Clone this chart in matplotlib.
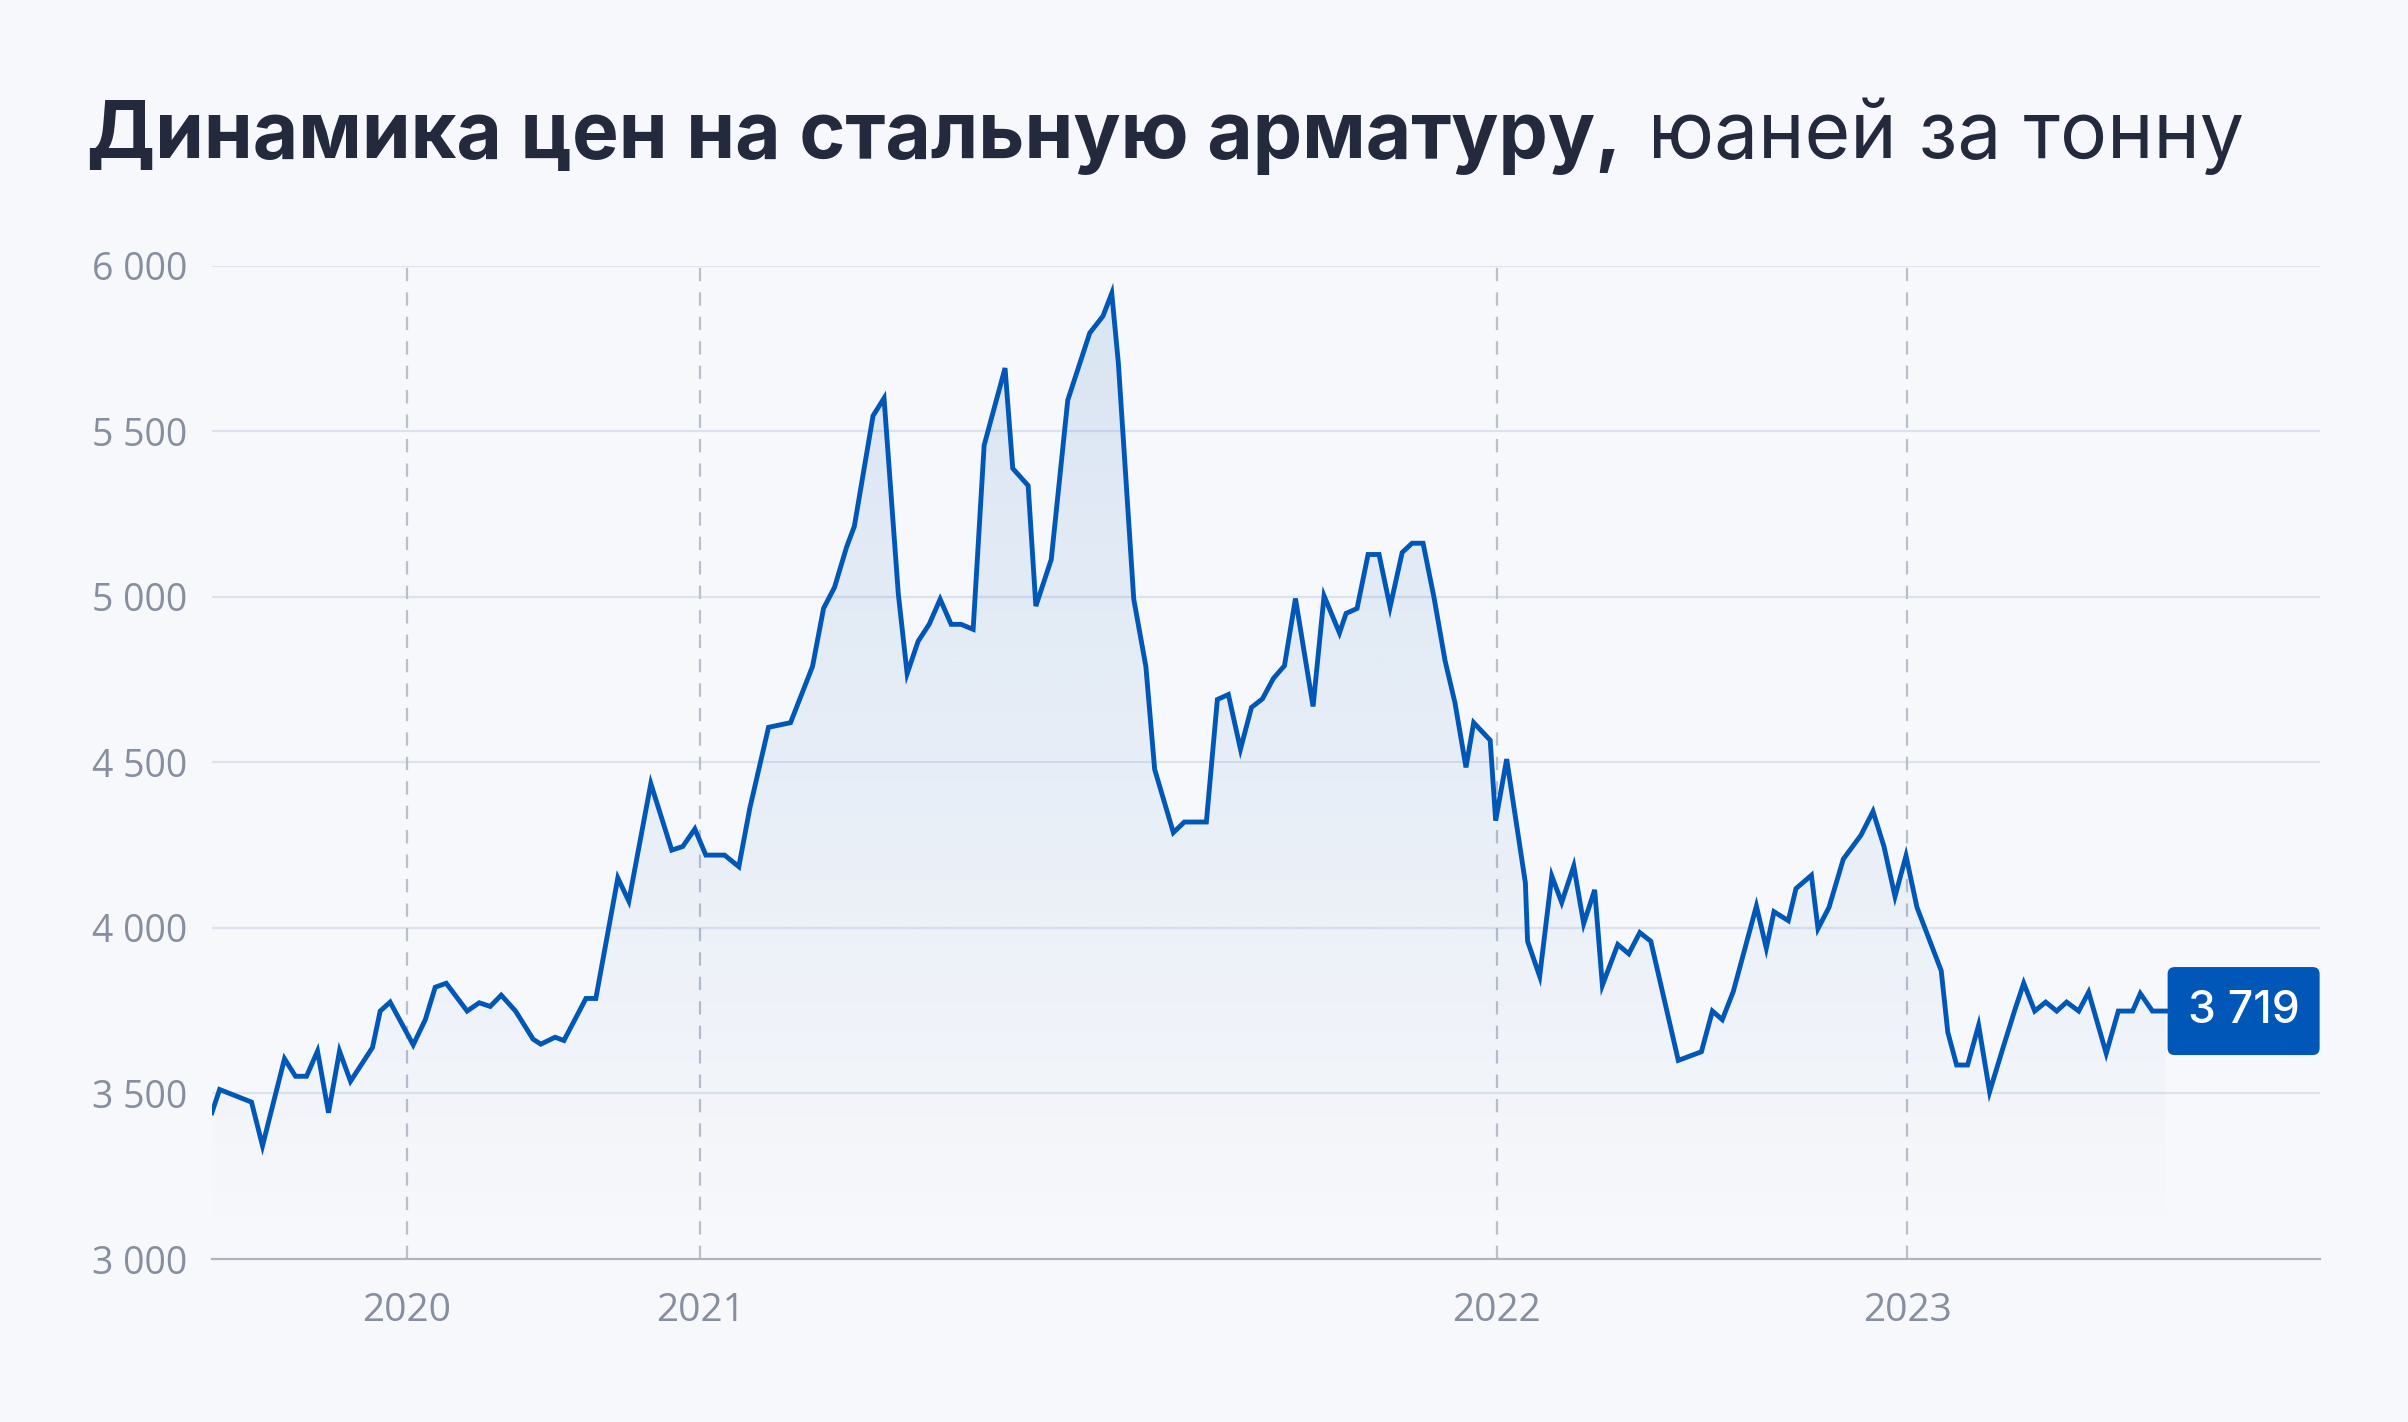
import numpy as np
import matplotlib
matplotlib.use("Agg")
import matplotlib.pyplot as plt
from matplotlib.patches import FancyBboxPatch
from matplotlib.transforms import IdentityTransform

# week positions (x) and rebar prices, yuan per tonne
weeks = [0.0, 0.7, 3.6, 4.6, 6.6, 7.6, 8.6, 9.6, 10.6, 11.6, 12.6, 14.6, 15.3, 16.2,
         18.3, 19.4, 20.3, 21.3, 23.2, 24.3, 25.3, 26.3, 27.6, 29.2, 29.9, 31.2, 32.0,
         34.0, 34.9, 36.9, 37.9, 39.9, 41.8, 42.8, 43.9, 44.9, 46.6, 47.9, 48.9, 50.6,
         52.6, 54.6, 55.6, 56.6, 57.7, 58.4, 60.1, 61.1, 62.4, 63.2, 64.2, 65.2, 66.2,
         67.2, 68.1, 69.2, 70.2, 72.1, 72.8, 74.2, 74.9, 76.3, 77.8, 79.8, 81.0, 81.8,
         82.4, 83.8, 84.9, 85.7, 87.4, 88.4, 90.4, 91.4, 92.4, 93.5, 94.5, 95.5, 96.5,
         97.5, 98.5, 100.1, 101.1, 102.5, 103.1, 104.1, 105.1, 106.1, 107.1, 108.2,
         109.1, 110.1, 111.1, 112.1, 113.0, 114.0, 114.7, 116.2, 116.7, 117.7, 119.4,
         119.6, 120.7, 121.8, 122.7, 123.8, 124.7, 125.7, 126.4, 127.8, 128.8, 129.8,
         130.8, 132.2, 133.3, 135.4, 136.4, 137.3, 138.3, 140.4, 141.3, 142.0, 143.3,
         144.0, 145.4, 146.0, 147.0, 148.3, 149.9, 151.0, 152.0, 153.0, 154.0, 155.0,
         157.2, 157.8, 158.6, 159.6, 160.6, 161.6, 162.8, 163.9, 164.7, 165.7, 166.7,
         167.7, 168.6, 169.7, 170.6, 172.2, 173.3, 174.6, 175.3, 176.4, 177.6]
prices = [3442, 3512, 3474, 3342, 3605, 3552, 3552, 3628, 3442, 3628, 3537, 3639, 3749, 3776,
          3647, 3723, 3821, 3833, 3749, 3774, 3763, 3797, 3749, 3664, 3649, 3670, 3660,
          3787, 3787, 4151, 4081, 4436, 4235, 4246, 4299, 4220, 4220, 4185, 4362, 4606,
          4620, 4790, 4965, 5029, 5151, 5213, 5547, 5600, 5008, 4768, 4866, 4917, 4993,
          4917, 4917, 4902, 5458, 5691, 5388, 5336, 4972, 5113, 5594, 5797, 5848, 5917,
          5706, 4993, 4790, 4479, 4288, 4320, 4320, 4690, 4705, 4540, 4666, 4692, 4754,
          4792, 4995, 4669, 5003, 4891, 4950, 4965, 5128, 5128, 4969, 5134,
          5162, 5162, 4997, 4807, 4680, 4485, 4620, 4567, 4324, 4510, 4136,
          3960, 3854, 4157, 4077, 4187, 4013, 4115, 3827, 3950, 3922, 3986,
          3960, 3759, 3600, 3626, 3749, 3723, 3808, 4066, 3939, 4049, 4022,
          4119, 4159, 3998, 4062, 4208, 4280, 4352, 4246, 4095, 4218, 4062,
          3871, 3685, 3586, 3586, 3706, 3505, 3636, 3753, 3833, 3749, 3776,
          3749, 3776, 3749, 3806, 3621, 3749, 3749, 3802, 3749, 3749]
last_label = 3719

year_pos = [17.7, 44.4, 116.8, 154.1]
year_labels = ["2020", "2021", "2022", "2023"]
y_ticks = [3000, 3500, 4000, 4500, 5000, 5500, 6000]

bg = "#f7f8fb"
blue = "#0057b8"
navy = "#232a3e"
grey = "#868f9f"

fig = plt.figure(figsize=(24.08, 14.22), dpi=100, facecolor=bg)
ax = fig.add_axes([0.088, 0.1146, 0.8753, 0.6985], facecolor=bg)
ax.set_xlim(0, 191.6)
ax.set_ylim(3000, 6000)

# grid
for v in y_ticks[1:]:
    ax.axhline(v, color="#dce2ee", lw=1.6, zorder=1)
for p in year_pos:
    ax.axvline(p, color="#b9bfcb", lw=1.6, dashes=(6, 5), zorder=1)

# gradient fill under the line
poly = ax.fill_between(weeks, prices, 3000, color="none", lw=0)
ys = np.linspace(6000, 3000, 400)
alpha = np.clip((ys - 3080) / (6000 - 3080), 0, 1) ** 0.85 * 0.12
rgba = np.zeros((400, 1, 4))
rgba[..., :3] = matplotlib.colors.to_rgb(blue)
rgba[:, 0, 3] = alpha
im = ax.imshow(rgba, extent=[weeks[0], weeks[-1], 3000, 6000], aspect="auto",
               interpolation="bilinear", zorder=2)
im.set_clip_path(poly.get_paths()[0], transform=ax.transData)

ax.plot(weeks, prices, color=blue, lw=3.5, solid_joinstyle="miter", zorder=3)

# axes styling
for s in ["top", "right", "left"]:
    ax.spines[s].set_visible(False)
ax.spines["bottom"].set_color("#aeb3bd")
ax.spines["bottom"].set_linewidth(1.6)
ax.set_yticks(y_ticks, [f"{v:,}".replace(",", " ") for v in y_ticks])
ax.set_xticks(year_pos, year_labels)
ax.tick_params(axis="y", length=0, pad=18, labelsize=27, labelcolor=grey)
ax.tick_params(axis="x", length=0, pad=24, labelsize=28, labelcolor=grey)
for lab in ax.get_xticklabels() + ax.get_yticklabels():
    lab.set_family(["Open Sans", "DejaVu Sans"])

# title: bold part + regular part
t1 = fig.text(0.0363, 0.889, "Динамика цен на стальную арматуру,", fontsize=56.5,
              fontweight="bold", family=["Inter", "DejaVu Sans"], color=navy, va="baseline")
fig.canvas.draw()
r = fig.canvas.get_renderer()
x_end = t1.get_window_extent(r).x1
fig.text((x_end + 26) / fig.bbox.width, 0.889, "юаней за тонну", fontsize=56.5,
         family=["Inter", "DejaVu Sans"], color=navy, va="baseline")

# last-value label
px, py = ax.transData.transform((weeks[-1], prices[-1]))
right = ax.transAxes.transform((1, 0))[0]
h = 88
box = FancyBboxPatch((px + 2, py - h / 2), right - px - 2, h,
                     boxstyle="round,pad=0,rounding_size=7", transform=IdentityTransform(),
                     facecolor=blue, edgecolor="none", zorder=5)
fig.add_artist(box)
fig.text(((px + 2 + right) / 2) / fig.bbox.width, py / fig.bbox.height,
         f"{last_label:,}".replace(",", " "), fontsize=32, fontweight="medium",
         family=["Inter", "DejaVu Sans"], color="white", ha="center", va="center", zorder=6)

fig.savefig("out.png", dpi=100, facecolor=bg)
